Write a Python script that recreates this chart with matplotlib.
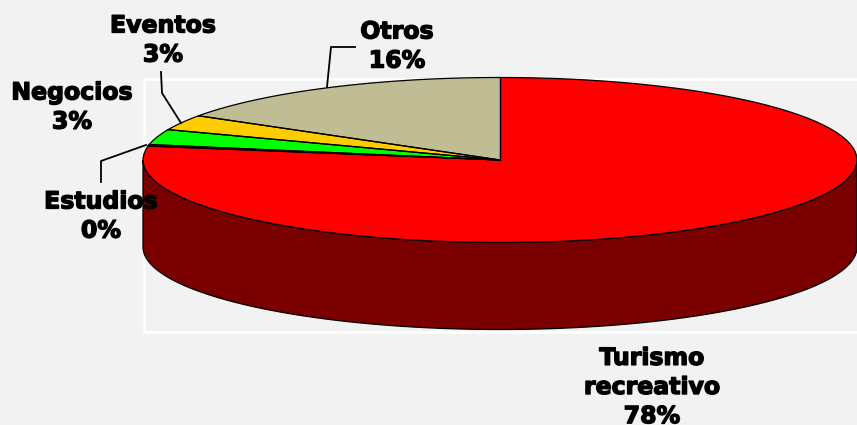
import numpy as np
import matplotlib
matplotlib.use("Agg")
import matplotlib.pyplot as plt
import matplotlib.patheffects as pe
from matplotlib.patches import Polygon, Rectangle

# valores, en sentido horario desde las 12
categorias = ["Turismo recreativo", "Estudios", "Negocios", "Eventos", "Otros"]
valores = [77.7, 0.3, 3, 3, 16]
colores = ["#ff0000", "#ff0000", "#00ff00", "#ffcc00", "#c0bc94"]
etiquetas = ["Turismo\nrecreativo\n78%", "Estudios\n0%", "Negocios\n3%", "Eventos\n3%", "Otros\n16%"]

cx, cy = 500, 160
rx, ry = 357, 82.5
prof = 87

fig = plt.figure(figsize=(8.57, 4.25), dpi=100, facecolor="#f2f2f2")
ax = fig.add_axes([0, 0, 1, 1])
ax.set_xlim(0, 857)
ax.set_ylim(425, 0)
ax.axis("off")

# recuadro blanco del area de trazado
ax.add_patch(Rectangle((144, 79), 760, 253, fill=False, ec="white", lw=2, zorder=1))


def elipse(a):
    # a en grados desde las 12, sentido horario
    a = np.radians(a)
    return cx + rx * np.sin(a), cy - ry * np.cos(a)


# pared lateral, solo la mitad de abajo
a = np.linspace(90, 270, 200)
x, y = elipse(a)
lado = np.r_[np.c_[x, y], np.c_[x[::-1], y[::-1] + prof]]
ax.add_patch(Polygon(lado, fc="#7a0000", ec="black", lw=0.9, zorder=2))

# sectores
acum = 0
for v, c in zip(valores, colores):
    a = np.linspace(acum, acum + v, 100) * 3.6
    x, y = elipse(a)
    pts = np.r_[[[cx, cy]], np.c_[x, y]]
    ax.add_patch(Polygon(pts, fc=c, ec="none", zorder=3))
    ax.plot([cx, x[0]], [cy, y[0]], color="black", lw=0.9, zorder=4)
    ax.plot([cx, x[-1]], [cy, y[-1]], color="black", lw=0.9, zorder=4)
    ax.plot(x, y, color="black", lw=0.9, zorder=4)
    acum += v

# lineas guia
ax.plot([327, 331, 355], [87, 47, 47], color="black", lw=1.3, zorder=5)
ax.plot([161, 162, 181], [72, 93, 123], color="black", lw=1.3, zorder=5)
ax.plot([101, 101, 146], [182, 161, 145], color="black", lw=1.3, zorder=5)

# etiquetas
pos = [(652, 387), (101, 216), (72, 107), (163, 40), (397, 46)]
for t, (px, py) in zip(etiquetas, pos):
    ax.text(px, py, t, ha="center", va="center", fontsize=17, fontweight="bold",
            family="DejaVu Sans", color="black", linespacing=1.27, zorder=6,
            path_effects=[pe.withStroke(linewidth=1.0, foreground="black")])

fig.savefig("out.png", dpi=100, facecolor=fig.get_facecolor())
